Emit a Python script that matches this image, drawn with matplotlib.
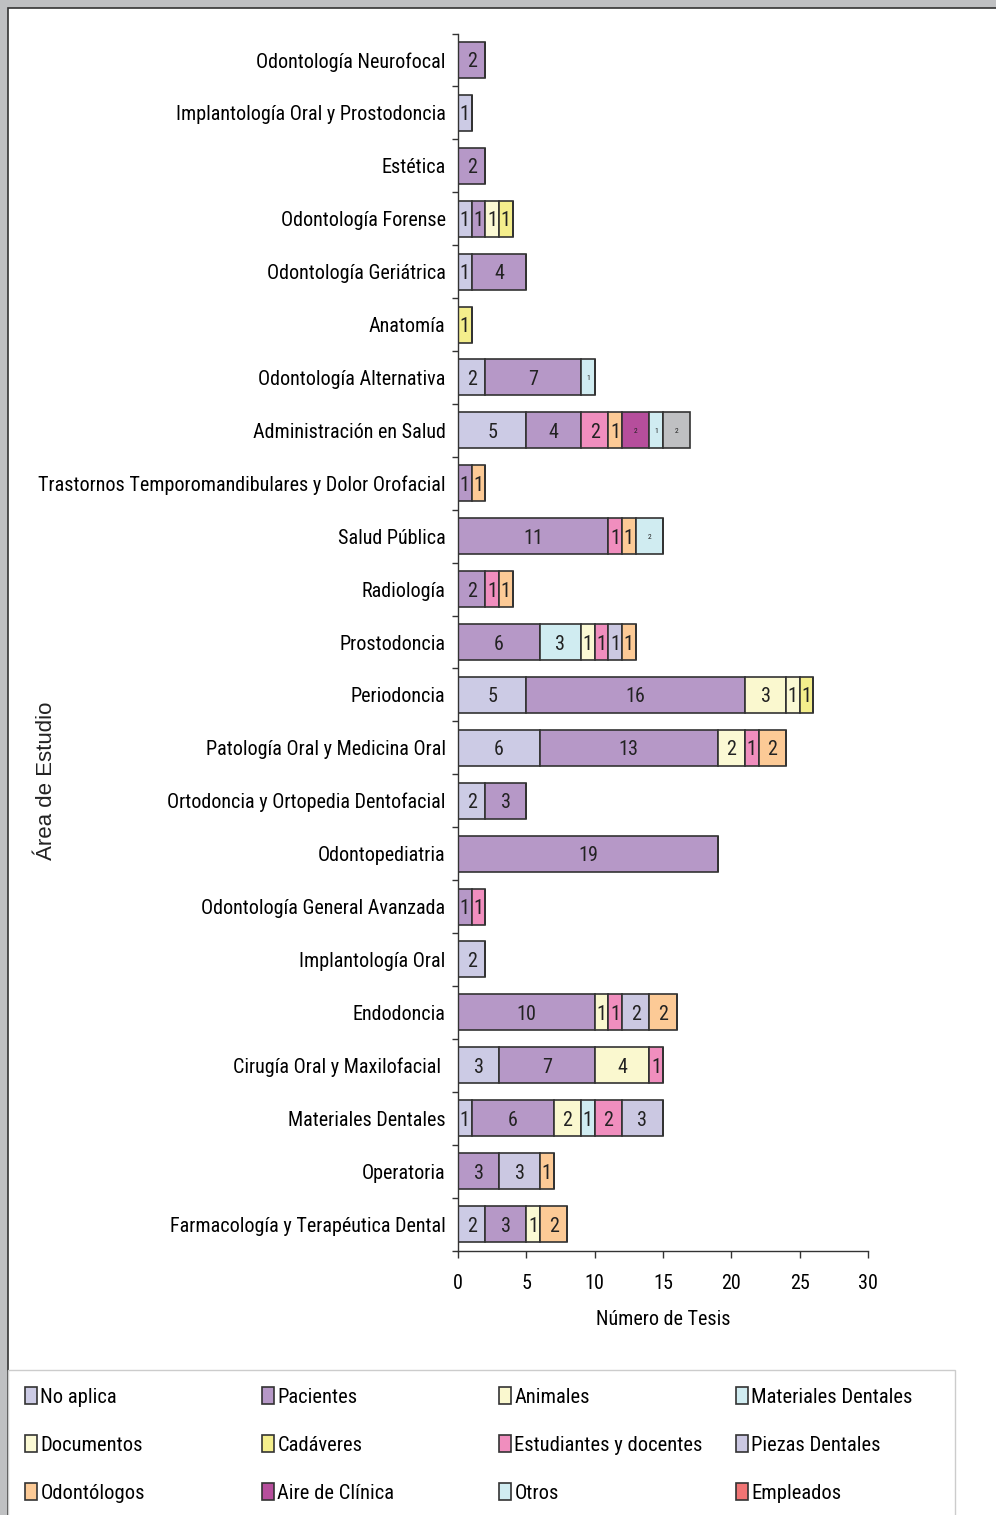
import matplotlib
matplotlib.use('Agg')
import matplotlib.pyplot as plt
from matplotlib import font_manager
from matplotlib.patches import Rectangle
import numpy as np

# data (top to bottom, as in the chart)
areas = ['Odontología Neurofocal', 'Implantología Oral y Prostodoncia', 'Estética',
         'Odontología Forense', 'Odontología Geriátrica', 'Anatomía',
         'Odontología Alternativa', 'Administración en Salud',
         'Trastornos Temporomandibulares y Dolor Orofacial', 'Salud Pública',
         'Radiología', 'Prostodoncia', 'Periodoncia', 'Patología Oral y Medicina Oral',
         'Ortodoncia y Ortopedia Dentofacial', 'Odontopediatria',
         'Odontología General Avanzada', 'Implantología Oral', 'Endodoncia',
         'Cirugía Oral y Maxilofacial ', 'Materiales Dentales', 'Operatoria',
         'Farmacología y Terapéutica Dental']

no_aplica   = [0, 1, 0, 1, 1, 0, 2, 5, 0, 0, 0, 0, 5, 6, 2, 0, 0, 2, 0, 3, 1, 0, 2]
pacientes   = [2, 0, 2, 1, 4, 0, 7, 4, 1, 11, 2, 6, 16, 13, 3, 19, 1, 0, 10, 7, 6, 3, 3]
animales    = [0, 0, 0, 0, 0, 0, 0, 0, 0, 0, 0, 0, 3, 0, 0, 0, 0, 0, 1, 4, 2, 0, 0]
materiales  = [0, 0, 0, 0, 0, 0, 0, 0, 0, 0, 0, 3, 0, 0, 0, 0, 0, 0, 0, 0, 1, 0, 0]
documentos  = [0, 0, 0, 1, 0, 0, 0, 0, 0, 0, 0, 1, 1, 2, 0, 0, 0, 0, 0, 0, 0, 0, 1]
cadaveres   = [0, 0, 0, 1, 0, 1, 0, 0, 0, 0, 0, 0, 1, 0, 0, 0, 0, 0, 0, 0, 0, 0, 0]
estudiantes = [0, 0, 0, 0, 0, 0, 0, 2, 0, 1, 1, 1, 0, 1, 0, 0, 1, 0, 1, 1, 2, 0, 0]
piezas      = [0, 0, 0, 0, 0, 0, 0, 0, 0, 0, 0, 1, 0, 0, 0, 0, 0, 0, 2, 0, 3, 3, 0]
odontologos = [0, 0, 0, 0, 0, 0, 0, 1, 1, 1, 1, 1, 0, 2, 0, 0, 0, 0, 2, 0, 0, 1, 2]
aire        = [0, 0, 0, 0, 0, 0, 0, 2, 0, 0, 0, 0, 0, 0, 0, 0, 0, 0, 0, 0, 0, 0, 0]
otros       = [0, 0, 0, 0, 0, 0, 1, 1, 0, 2, 0, 0, 0, 0, 0, 0, 0, 0, 0, 0, 0, 0, 0]
empleados   = [0] * 23
sin_leyenda = [0, 0, 0, 0, 0, 0, 0, 2, 0, 0, 0, 0, 0, 0, 0, 0, 0, 0, 0, 0, 0, 0, 0]

series = [('No aplica', no_aplica, '#CCCBE5', False),
          ('Pacientes', pacientes, '#B698C7', False),
          ('Animales', animales, '#FAF8CF', False),
          ('Materiales Dentales', materiales, '#D0ECF1', False),
          ('Documentos', documentos, '#FBF9D4', False),
          ('Cadáveres', cadaveres, '#F4EE8C', False),
          ('Estudiantes y docentes', estudiantes, '#F08EBE', False),
          ('Piezas Dentales', piezas, '#CBC8E2', False),
          ('Odontólogos', odontologos, '#FCCA96', False),
          ('Aire de Clínica', aire, '#B64E9C', True),
          ('Otros', otros, '#D0ECF1', True),
          ('Empleados', empleados, '#F07474', False),
          ('_sin leyenda', sin_leyenda, '#BFC0C2', True)]

# pick a narrow font if one is installed
installed = {f.name for f in font_manager.fontManager.ttflist}
narrow = None
for cand in ['Liberation Sans Narrow', 'Arial Narrow', 'DejaVu Sans Condensed', 'Roboto Condensed']:
    if cand in installed:
        narrow = cand
        break
if narrow:
    plt.rcParams['font.family'] = [narrow, 'DejaVu Sans']
    fsz = 14.5
else:
    plt.rcParams['font.family'] = ['Liberation Sans', 'DejaVu Sans']
    fsz = 12.5

fig = plt.figure(figsize=(9.96, 15.15), dpi=100, facecolor='#BFC0C2')
# white page with dark border
page = Rectangle((8 / 996, -0.01), 1.0, 1 - 8 / 1515 + 0.01, transform=fig.transFigure,
                 facecolor='white', edgecolor='#333333', lw=1.2, zorder=-10)
fig.patches.append(page)
# legend frame
legbox = Rectangle((8 / 996, -0.01), 947 / 996, 1 - 1370 / 1515 + 0.01,
                   transform=fig.transFigure, facecolor='white', edgecolor='#CCCCCC',
                   lw=1, zorder=-5)
fig.patches.append(legbox)

ax = fig.add_axes([458 / 996, 1 - 1250.5 / 1515, 410 / 996, 1217 / 1515])
ax.set_facecolor('none')

y = np.arange(len(areas))
left = np.zeros(len(areas))
handles = []
for name, vals, col, small in series:
    vals = np.array(vals, dtype=float)
    b = ax.barh(y, vals, left=left, height=0.68, color=col, edgecolor='#333333',
                linewidth=1.2, label=name)
    labels = [str(int(v)) if v > 0 else '' for v in vals]
    txts = ax.bar_label(b, labels=labels, label_type='center', fontsize=5.5 if small else fsz,
                        color='#222222')
    for t in txts:
        t.set_va('center_baseline')
    left += vals
    if not name.startswith('_'):
        handles.append(b)

ax.set_ylim(len(areas) - 0.5, -0.5)
ax.set_xlim(0, 30)
ax.set_yticks(y)
ax.set_yticklabels(areas, fontsize=fsz)
ax.set_yticks(np.arange(-0.5, len(areas), 1), minor=True)
ax.tick_params(axis='y', which='major', length=0, pad=9)
ax.tick_params(axis='y', which='minor', length=4.5, width=1, color='#333333', direction='out')
ax.set_xticks(np.arange(0, 31, 5))
ax.tick_params(axis='x', length=5, width=1, color='#333333', labelsize=fsz, pad=12)
for s in ['top', 'right']:
    ax.spines[s].set_visible(False)
for s in ['left', 'bottom']:
    ax.spines[s].set_color('#333333')
    ax.spines[s].set_linewidth(1)
ax.set_xlabel('Número de Tesis', fontsize=fsz, labelpad=12)

fig.text(47 / 996, 1 - 781 / 1515, 'Área de Estudio', rotation=90, ha='center', va='center',
         fontsize=16, family=['Liberation Sans', 'DejaVu Sans'], color='#222222')

col_x = [25, 262, 499, 736]
for c in range(4):
    hs = handles[c::4]
    fig.legend(hs, [h.get_label() for h in hs], loc='upper left',
               bbox_to_anchor=(col_x[c] / 996, 1 - 1387 / 1515),
               frameon=False, fontsize=fsz + 0.3, handlelength=0.6, handleheight=0.9,
               handletextpad=0.15, labelspacing=1.6 if fsz < 14 else 1.38,
               borderpad=0, borderaxespad=0)

plt.savefig('out.png', dpi=100, facecolor=fig.get_facecolor())
